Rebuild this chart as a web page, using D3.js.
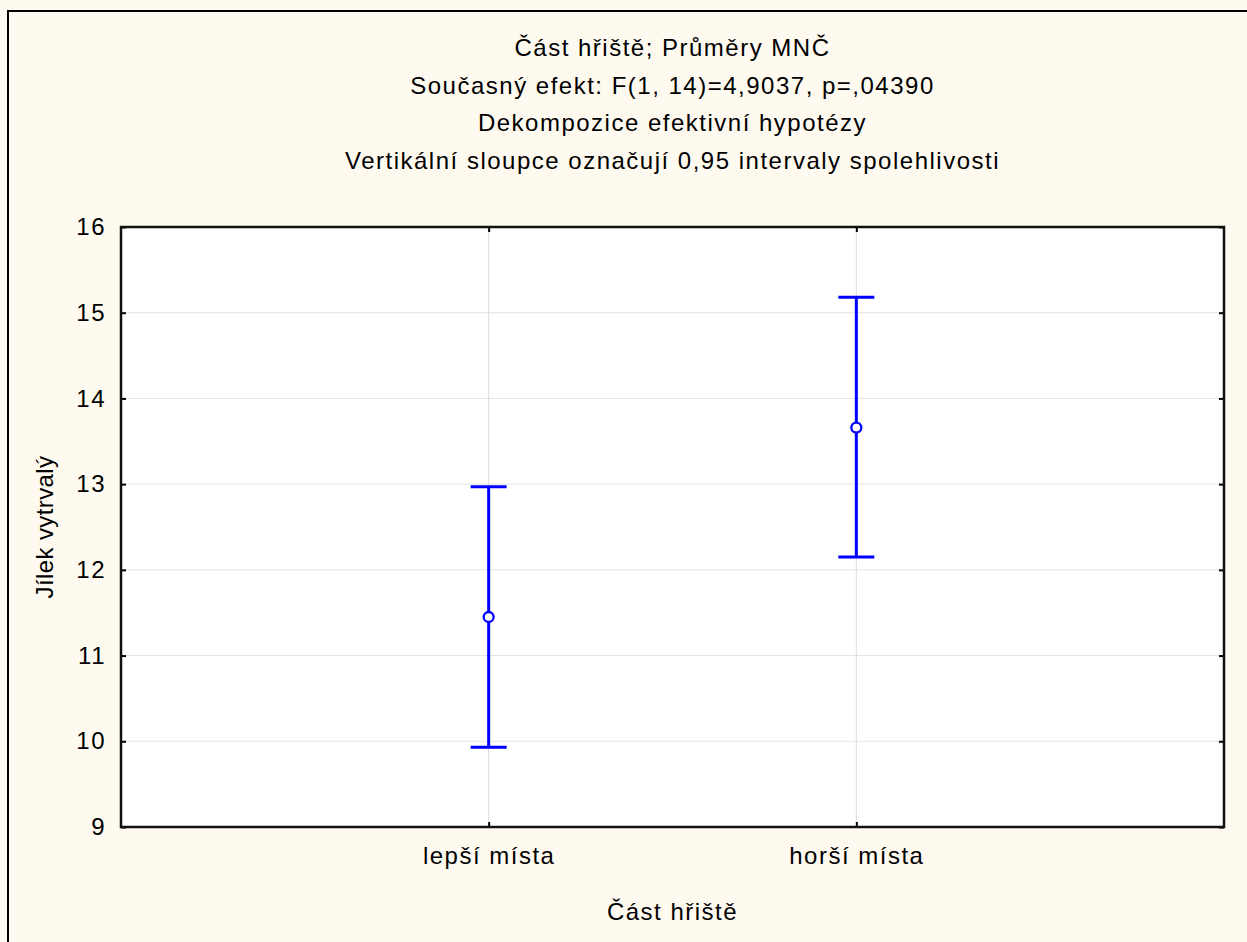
<!DOCTYPE html>
<html>
<head>
<meta charset="utf-8">
<script src="https://cdn.jsdelivr.net/npm/d3@7"></script>
<style>
  body { margin: 0; background: #fffaf0; }
  text { font-family: "Liberation Sans", Arial, sans-serif; fill: #000; }
</style>
</head>
<body>
<div id="chart"></div>
<script>
// data
const categories = ["lepší místa", "horší místa"];
const means = [11.45, 13.66];
const lower = [9.93, 12.15];
const upper = [12.97, 15.18];
const yTicks = [9, 10, 11, 12, 13, 14, 15, 16];
const titleLines = [
  "Část hřiště; Průměry MNČ",
  "Současný efekt: F(1, 14)=4,9037, p=,04390",
  "Dekompozice efektivní hypotézy",
  "Vertikální sloupce označují 0,95 intervaly spolehlivosti"
];

const W = 1247, H = 942;
const fs = "24px", ls = "1.5px";
const margin = {top: 227, right: 23, bottom: 115, left: 121},
    width = W - margin.left - margin.right,
    height = H - margin.top - margin.bottom;

const root = d3.select("#chart")
    .append("svg")
    .attr("width", W)
    .attr("height", H);

// outer frame (runs off the right and bottom edge)
root.append("rect")
    .attr("x", 8).attr("y", 11)
    .attr("width", W + 20).attr("height", H + 20)
    .attr("fill", "#fffaf0")
    .attr("stroke", "#000")
    .attr("stroke-width", 2);

// titles
root.selectAll(".title")
    .data(titleLines)
    .enter()
    .append("text")
    .attr("class", "title")
    .attr("x", margin.left + width / 2)
    .attr("y", function (d, i) { return 56 + i * 37.7; })
    .attr("text-anchor", "middle")
    .style("font-size", fs)
    .style("letter-spacing", ls)
    .text(function (d) { return d; });

const svg = root.append("g")
    .attr("transform", "translate(" + margin.left + "," + margin.top + ")");

var x = d3.scalePoint()
    .domain(categories)
    .range([0, width])
    .padding(1);

var y = d3.scaleLinear()
    .domain([9, 16])
    .range([height, 0]);

// plot background
svg.append("rect")
    .attr("width", width)
    .attr("height", height)
    .attr("fill", "#fff");

// grid
svg.append("g")
    .selectAll("line")
    .data(yTicks.slice(1, -1))
    .enter()
    .append("line")
    .attr("x1", 0).attr("x2", width)
    .attr("y1", function (d) { return y(d); })
    .attr("y2", function (d) { return y(d); })
    .attr("stroke", "#e3e3e3")
    .attr("stroke-width", 1);

svg.append("g")
    .selectAll("line")
    .data(categories)
    .enter()
    .append("line")
    .attr("x1", function (d) { return x(d); })
    .attr("x2", function (d) { return x(d); })
    .attr("y1", 0).attr("y2", height)
    .attr("stroke", "#dcdcdc")
    .attr("stroke-width", 1);

// axes, ticks pointing inward
function styleAxis(g) {
    g.select(".domain").remove();
    g.selectAll(".tick line").attr("stroke", "#000").attr("stroke-width", 2);
    g.selectAll(".tick text").style("font-size", fs).attr("fill", "#000")
        .style("letter-spacing", ls)
        .style("font-family", "'Liberation Sans', Arial, sans-serif");
}

svg.append("g")
    .call(d3.axisLeft(y).tickValues(yTicks).tickFormat(d3.format("d"))
        .tickSizeInner(-5).tickSizeOuter(0).tickPadding(15))
    .call(styleAxis);

svg.append("g")
    .attr("transform", "translate(" + width + ",0)")
    .call(d3.axisRight(y).tickValues(yTicks).tickSizeInner(-5).tickSizeOuter(0).tickFormat(""))
    .call(styleAxis);

svg.append("g")
    .attr("transform", "translate(0," + height + ")")
    .call(d3.axisBottom(x).tickSizeInner(-5).tickSizeOuter(0).tickPadding(20))
    .call(styleAxis);

svg.append("g")
    .call(d3.axisTop(x).tickSizeInner(-5).tickSizeOuter(0).tickFormat(""))
    .call(styleAxis);

// plot frame
svg.append("rect")
    .attr("width", width)
    .attr("height", height)
    .attr("fill", "none")
    .attr("stroke", "#111")
    .attr("stroke-width", 2.5);

// axis titles
svg.append("text")
    .text("Část hřiště")
    .attr("x", width / 2)
    .attr("y", height + 93)
    .attr("text-anchor", "middle")
    .style("font-size", fs)
    .style("letter-spacing", ls);

svg.append("text")
    .text("Jílek vytrvalý")
    .attr("text-anchor", "middle")
    .attr("transform", "translate(-68," + (height / 2) + ")rotate(-90)")
    .style("font-size", fs)
    .style("letter-spacing", "0.4px");

// error bars
var bars = svg.append("g")
    .selectAll("g")
    .data(categories)
    .enter()
    .append("g");

bars.append("line")
    .attr("x1", function (d) { return x(d); })
    .attr("x2", function (d) { return x(d); })
    .attr("y1", function (d, i) { return y(lower[i]); })
    .attr("y2", function (d, i) { return y(upper[i]); })
    .attr("stroke", "#0000ff")
    .attr("stroke-width", 3);

bars.append("line")
    .attr("x1", function (d) { return x(d) - 18; })
    .attr("x2", function (d) { return x(d) + 18; })
    .attr("y1", function (d, i) { return y(upper[i]); })
    .attr("y2", function (d, i) { return y(upper[i]); })
    .attr("stroke", "#0000ff")
    .attr("stroke-width", 3);

bars.append("line")
    .attr("x1", function (d) { return x(d) - 18; })
    .attr("x2", function (d) { return x(d) + 18; })
    .attr("y1", function (d, i) { return y(lower[i]); })
    .attr("y2", function (d, i) { return y(lower[i]); })
    .attr("stroke", "#0000ff")
    .attr("stroke-width", 3);

bars.append("circle")
    .attr("cx", function (d) { return x(d); })
    .attr("cy", function (d, i) { return y(means[i]); })
    .attr("r", 5)
    .attr("fill", "#fff")
    .attr("stroke", "#0000ff")
    .attr("stroke-width", 2.3);
</script>
</body>
</html>
